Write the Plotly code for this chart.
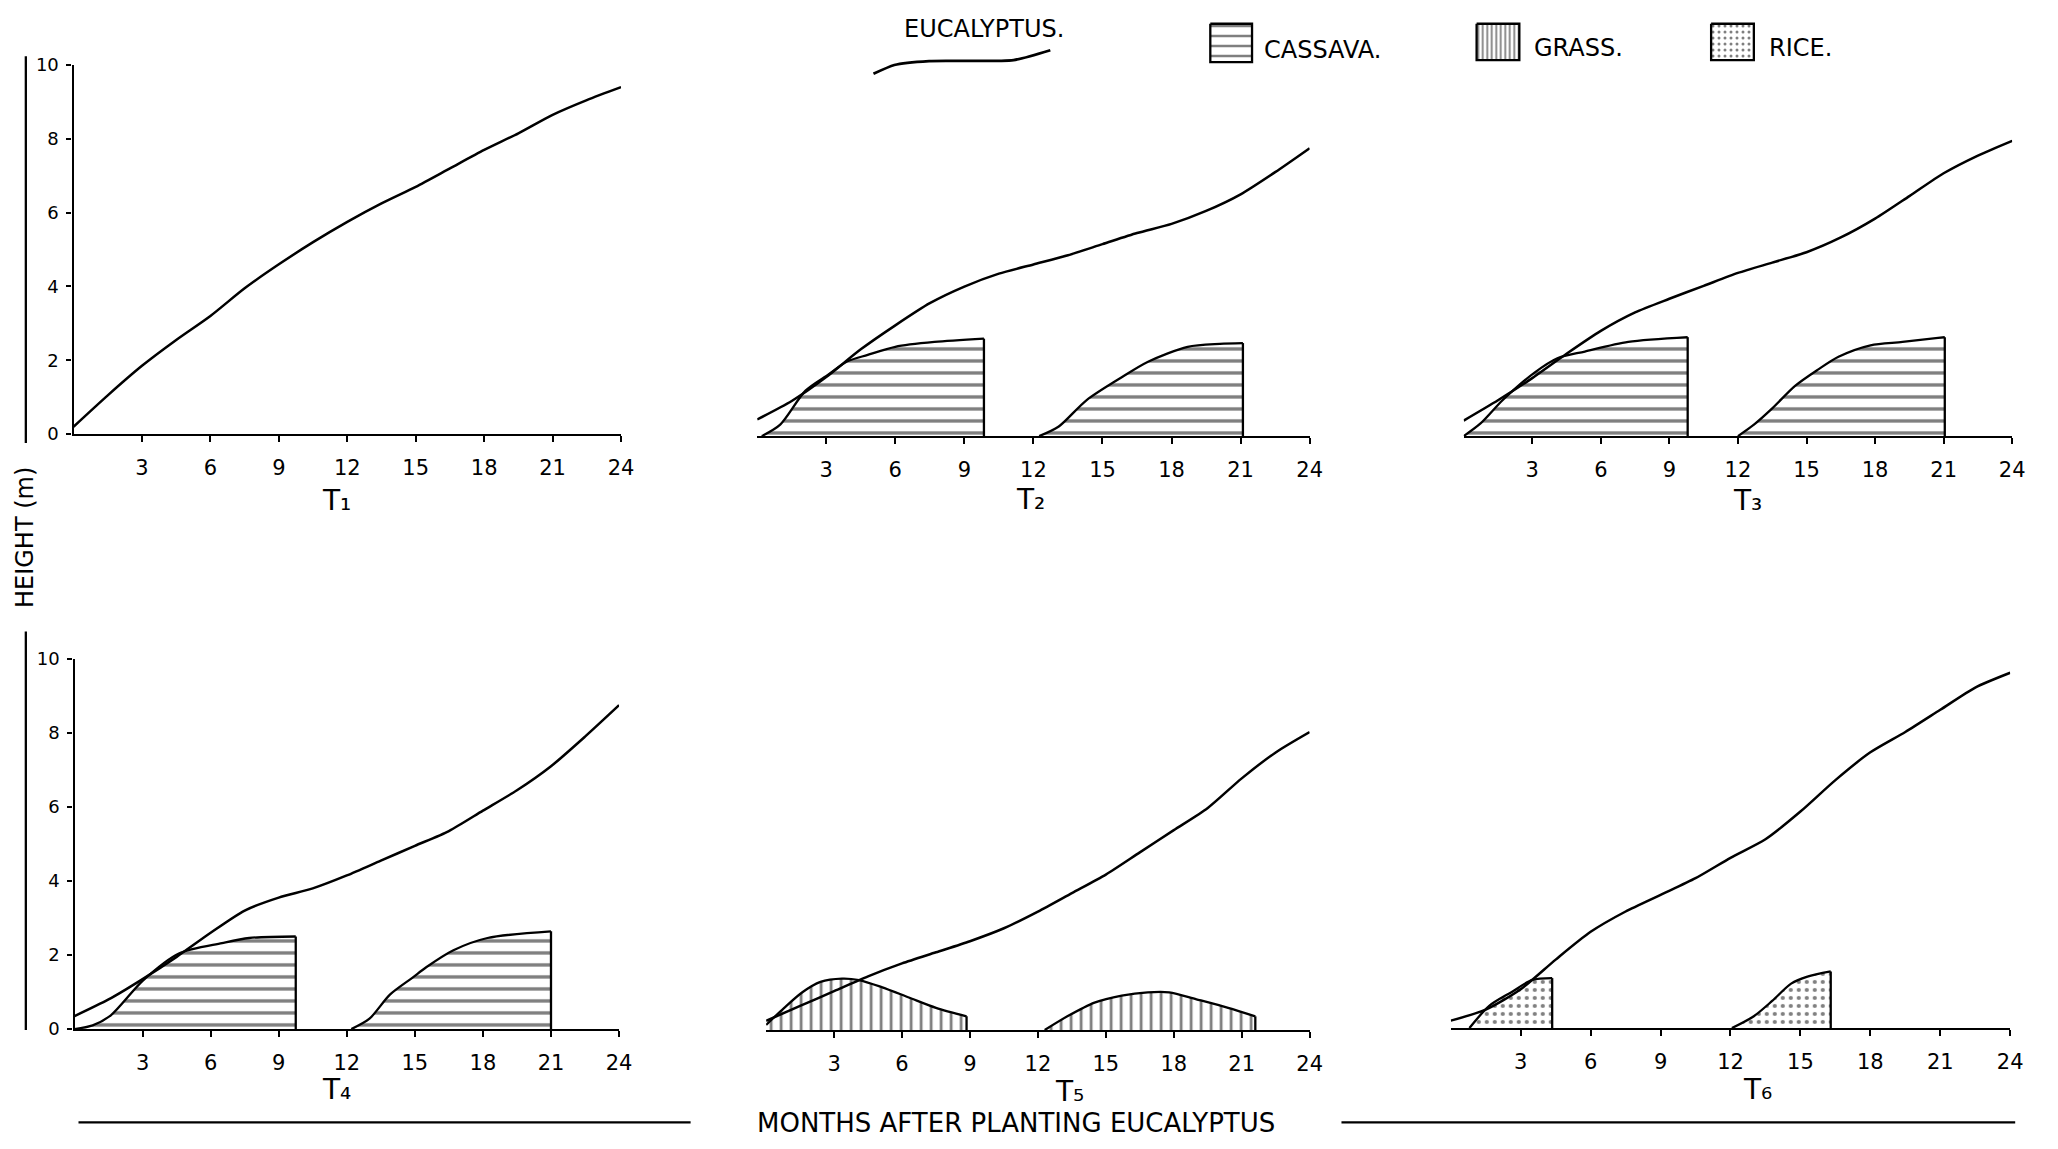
import plotly.graph_objects as go

W, H = 2058, 1149

# ---------------- data (months after planting, height in m) ----------------
EUC_MONTHS = [0, 1.5, 3, 4.5, 6, 7.5, 9, 10.5, 12, 13.5, 15, 16.5, 18, 19.5, 21, 22.5, 24]
EUC_T1 = [0.2, 1.05, 1.85, 2.55, 3.2, 3.95, 4.6, 5.2, 5.75, 6.25, 6.7, 7.2, 7.7, 8.15, 8.65, 9.05, 9.4]
EUC_T2 = [0.45, 0.95, 1.6, 2.35, 3.0, 3.6, 4.05, 4.4, 4.65, 4.9, 5.2, 5.5, 5.75, 6.1, 6.55, 7.15, 7.8]
EUC_T3 = [0.42, 0.97, 1.57, 2.23, 2.85, 3.35, 3.72, 4.07, 4.42, 4.7, 4.98, 5.38, 5.89, 6.5, 7.12, 7.6, 8.0]
EUC_T4 = [0.35, 0.8, 1.35, 1.95, 2.6, 3.2, 3.55, 3.8, 4.15, 4.55, 4.95, 5.35, 5.9, 6.45, 7.1, 7.9, 8.75]
EUC_T5 = [0.25, 0.65, 1.05, 1.45, 1.8, 2.1, 2.4, 2.75, 3.2, 3.7, 4.2, 4.8, 5.4, 6.0, 6.8, 7.5, 8.05]
EUC_T6 = [0.2, 0.5, 1.05, 1.85, 2.6, 3.15, 3.6, 4.05, 4.6, 5.1, 5.85, 6.7, 7.45, 8.0, 8.6, 9.2, 9.6]

CASSAVA_T2_A_M = [0.2, 1.0, 2.1, 3.1, 3.9, 4.8, 6.0, 7.7, 9.85]
CASSAVA_T2_A_H = [0, 0.31, 1.23, 1.67, 2.02, 2.2, 2.42, 2.55, 2.64]
CASSAVA_T2_B_M = [12.25, 13.1, 14.3, 15.8, 17.0, 18.7, 20.1, 21.1]
CASSAVA_T2_B_H = [0, 0.26, 0.97, 1.58, 2.02, 2.42, 2.5, 2.52]

CASSAVA_T3_A_M = [0, 0.75, 1.7, 3.1, 4.1, 5.3, 7.2, 9.8]
CASSAVA_T3_A_H = [0, 0.35, 0.97, 1.72, 2.11, 2.29, 2.55, 2.68]
CASSAVA_T3_B_M = [12.0, 12.7, 13.5, 14.5, 15.5, 16.4, 17.8, 19.2, 21.05]
CASSAVA_T3_B_H = [0, 0.31, 0.75, 1.36, 1.8, 2.15, 2.46, 2.55, 2.68]

CASSAVA_T4_A_M = [0, 0.8, 1.6, 3.0, 4.6, 6.5, 7.7, 9.75]
CASSAVA_T4_A_H = [0, 0.1, 0.37, 1.3, 2.04, 2.32, 2.46, 2.5]
CASSAVA_T4_B_M = [12.2, 13.0, 13.9, 14.9, 15.5, 16.7, 18.2, 21.0]
CASSAVA_T4_B_H = [0, 0.28, 0.93, 1.39, 1.67, 2.13, 2.46, 2.64]

GRASS_T5_A_M = [0, 0.8, 1.6, 2.4, 3.35, 4.1, 5.1, 6.3, 7.5, 8.85]
GRASS_T5_A_H = [0.14, 0.6, 1.02, 1.3, 1.39, 1.35, 1.16, 0.88, 0.6, 0.37]
GRASS_T5_B_M = [12.3, 13.3, 14.5, 15.7, 16.85, 17.8, 19.0, 20.4, 21.6]
GRASS_T5_B_H = [0, 0.37, 0.74, 0.93, 1.02, 1.02, 0.83, 0.6, 0.37]

RICE_T6_A_M = [0.8, 1.65, 2.6, 3.5, 4.35]
RICE_T6_A_H = [0, 0.6, 0.97, 1.3, 1.35]
RICE_T6_B_M = [12.06, 13.0, 13.8, 14.6, 15.3, 16.3]
RICE_T6_B_H = [0, 0.32, 0.74, 1.2, 1.39, 1.53]

X_TICKS = [3, 6, 9, 12, 15, 18, 21, 24]
X_TICKTEXT = ["3", "6", "9", "12", "15", "18", "21", "24"]
Y_TICKS = [0, 2, 4, 6, 8, 10]
Y_TICKTEXT = ["0", "2", "4", "6", "8", "10"]
PANEL_NAMES = ["T\u2081", "T\u2082", "T\u2083", "T\u2084", "T\u2085", "T\u2086"]

FONT = "DejaVu Sans"
INK = "black"

PATTERNS = {
    "cassava": dict(shape="-", size=12, solidity=0.28),
    "grass": dict(shape="|", size=10, solidity=0.28),
    "rice": dict(shape=".", size=8, solidity=0.22),
}

# ---------------- layout geometry (pixels) ----------------
# (x of month 0, x of month 24, y of height 0, y of height 10)
PANELS = [
    (74, 625, 431, 55),
    (762, 1318, 433, 57),
    (1473, 2025, 433, 57),
    (75, 623, 1037, 660),
    (771, 1318, 1038, 661),
    (1460, 2023, 1036, 659),
]
LABEL_POS = [(339, 499), (1037, 498), (1759, 499), (339, 1099), (1076, 1101), (1769, 1099)]

fig = go.Figure()


def px(x):
    return x / W


def py(y):
    return 1 - y / H


crops = [
    (2, "cassava", CASSAVA_T2_A_M, CASSAVA_T2_A_H),
    (2, "cassava", CASSAVA_T2_B_M, CASSAVA_T2_B_H),
    (3, "cassava", CASSAVA_T3_A_M, CASSAVA_T3_A_H),
    (3, "cassava", CASSAVA_T3_B_M, CASSAVA_T3_B_H),
    (4, "cassava", CASSAVA_T4_A_M, CASSAVA_T4_A_H),
    (4, "cassava", CASSAVA_T4_B_M, CASSAVA_T4_B_H),
    (5, "grass", GRASS_T5_A_M, GRASS_T5_A_H),
    (5, "grass", GRASS_T5_B_M, GRASS_T5_B_H),
    (6, "rice", RICE_T6_A_M, RICE_T6_A_H),
    (6, "rice", RICE_T6_B_M, RICE_T6_B_H),
]

for idx, crop, m, h in crops:
    ax = "" if idx == 1 else str(idx)
    fig.add_trace(go.Scatter(
        x=m, y=h, mode="lines", xaxis="x" + ax, yaxis="y" + ax,
        line=dict(color=INK, width=2.3, shape="spline", smoothing=0.8),
        fill="tozeroy", fillcolor="white",
        fillpattern=dict(fgcolor=INK, bgcolor="white", **PATTERNS[crop]),
        showlegend=False, hoverinfo="skip"))
    # harvest edge
    fig.add_trace(go.Scatter(
        x=[m[-1], m[-1]], y=[h[-1], 0], mode="lines", xaxis="x" + ax, yaxis="y" + ax,
        line=dict(color=INK, width=2.3), showlegend=False, hoverinfo="skip"))

for i, euc in enumerate([EUC_T1, EUC_T2, EUC_T3, EUC_T4, EUC_T5, EUC_T6], start=1):
    ax = "" if i == 1 else str(i)
    fig.add_trace(go.Scatter(
        x=EUC_MONTHS, y=euc, mode="lines", xaxis="x" + ax, yaxis="y" + ax,
        line=dict(color=INK, width=2.5, shape="spline", smoothing=0.7),
        showlegend=False, hoverinfo="skip"))

layout = dict(
    width=W, height=H, autosize=False,
    margin=dict(l=0, r=0, t=0, b=0, pad=0),
    paper_bgcolor="white", plot_bgcolor="rgba(0,0,0,0)",
    font=dict(family=FONT, color=INK),
    showlegend=False,
)

for i, (x0, x24, y0, y10) in enumerate(PANELS, start=1):
    ax = "" if i == 1 else str(i)
    layout["xaxis" + ax] = dict(
        domain=[px(x0), px(x24)], range=[0, 24], anchor="y" + ax,
        showgrid=False, zeroline=False, showline=True, linecolor=INK, linewidth=2.3,
        ticks="outside", ticklen=6, tickwidth=2, tickcolor=INK,
        tickvals=X_TICKS, ticktext=X_TICKTEXT, ticklabelstandoff=8,
        tickfont=dict(size=21, family=FONT, color=INK), fixedrange=True)
    if i in (1, 4):
        layout["yaxis" + ax] = dict(
            domain=[py(y0), py(y10)], range=[0, 10], anchor="x" + ax,
            showgrid=False, zeroline=False, showline=True, linecolor=INK, linewidth=2.3,
            ticks="outside", ticklen=5, tickwidth=2, tickcolor=INK,
            tickvals=Y_TICKS, ticktext=Y_TICKTEXT, ticklabelstandoff=4,
            tickfont=dict(size=18, family=FONT, color=INK), fixedrange=True)
    else:
        layout["yaxis" + ax] = dict(
            domain=[py(y0), py(y10)], range=[0, 10], anchor="x" + ax,
            visible=False, showgrid=False, zeroline=False, showticklabels=False,
            fixedrange=True)

# overlay axis in pixel units for legend glyphs
layout["xaxis7"] = dict(domain=[0, 1], range=[0, W], anchor="y7", visible=False,
                        showticklabels=False, fixedrange=True)
layout["yaxis7"] = dict(domain=[0, 1], range=[H, 0], anchor="x7", visible=False,
                        showticklabels=False, fixedrange=True)

LEG_EUC_X = [879, 900, 935, 1020, 1057]
LEG_EUC_Y = [64, 55, 51, 50, 40]
fig.add_trace(go.Scatter(x=LEG_EUC_X, y=LEG_EUC_Y, mode="lines", xaxis="x7", yaxis="y7",
                         line=dict(color=INK, width=2.8, shape="spline", smoothing=0.6),
                         showlegend=False, hoverinfo="skip"))

LEG_BOXES = [("cassava", 1218, 1260, 13, 52, dict(shape="-", size=10, solidity=0.25)),
             ("grass", 1486, 1529, 13, 50, dict(shape="|", size=4.5, solidity=0.4)),
             ("rice", 1722, 1765, 13, 50, dict(shape=".", size=6, solidity=0.2))]
for name, bx0, bx1, by0, by1, pat in LEG_BOXES:
    fig.add_trace(go.Scatter(x=[bx0, bx1, bx1, bx0, bx0], y=[by0, by0, by1, by1, by0],
                             mode="lines", xaxis="x7", yaxis="y7", fill="toself",
                             fillcolor="white",
                             fillpattern=dict(fgcolor=INK, bgcolor="white", **pat),
                             line=dict(color=INK, width=2.3),
                             showlegend=False, hoverinfo="skip"))


def ann(x, y, text, size, xanchor="center", angle=0):
    return dict(x=px(x), y=py(y), xref="paper", yref="paper", text=text,
                xanchor=xanchor, yanchor="middle", textangle=angle,
                showarrow=False, font=dict(size=size, family=FONT, color=INK))


annotations = [ann(lx, ly, name, 28) for (lx, ly), name in zip(LABEL_POS, PANEL_NAMES)]
annotations += [
    ann(990, 18, "EUCALYPTUS.", 24),
    ann(1270, 40, "CASSAVA.", 24, "left"),
    ann(1542, 38, "GRASS.", 24, "left"),
    ann(1778, 38, "RICE.", 24, "left"),
    ann(1022, 1133, "MONTHS AFTER PLANTING EUCALYPTUS", 26),
    ann(25, 536, "HEIGHT (m)", 24, angle=-90),
]
layout["annotations"] = annotations

shapes = [
    dict(type="line", xref="paper", yref="paper", x0=px(26), x1=px(26), y0=py(46), y1=py(440),
         line=dict(color=INK, width=2.3)),
    dict(type="line", xref="paper", yref="paper", x0=px(26), x1=px(26), y0=py(632), y1=py(1038),
         line=dict(color=INK, width=2.3)),
    dict(type="line", xref="paper", yref="paper", x0=px(79), x1=px(695), y0=py(1132), y1=py(1132),
         line=dict(color=INK, width=2.3)),
    dict(type="line", xref="paper", yref="paper", x0=px(1350), x1=px(2028), y0=py(1132), y1=py(1132),
         line=dict(color=INK, width=2.3)),
]
layout["shapes"] = shapes

fig.update_layout(**layout)
fig.write_html(
    "out.html",
    config={"displayModeBar": False},
    post_script="document.body.style.margin='0px';document.body.style.padding='0px';"
                "document.documentElement.style.overflow='hidden';",
)
